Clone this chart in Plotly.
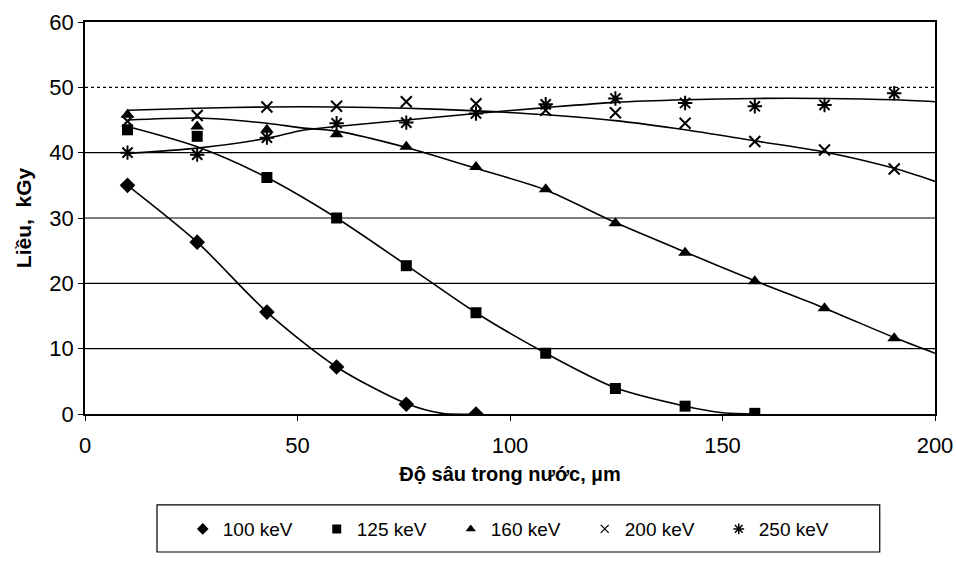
import plotly.graph_objects as go

# ---- data ----
depth = [10, 26.4, 42.8, 59.2, 75.6, 92, 108.4, 124.8, 141.2, 157.6, 174, 190.4]

kev100 = [35, 26.3, 15.6, 7.2, 1.5, 0]
kev125 = [43.5, 42.5, 36.2, 30, 22.7, 15.5, 9.3, 3.9, 1.2, 0.1]
kev160 = [45.8, 44, 43.5, 42.8, 40.9, 37.8, 34.4, 29.2, 24.7, 20.3, 16.2, 11.6]
kev200 = [44.8, 45.7, 47, 47.1, 47.8, 47.5, 46.5, 46.1, 44.5, 41.7, 40.4, 37.5]
kev250 = [40, 39.7, 42.3, 44.5, 44.6, 46, 47.4, 48.3, 47.6, 47.1, 47.3, 49.1]

# smooth trend curves
fit100_x = [10, 26.4, 42.8, 59.2, 75.6, 84, 92]
fit100_y = [35, 26.3, 15.6, 7.2, 1.6, 0.1, 0]
fit125_x = [10, 26.4, 42.8, 59.2, 75.6, 92, 108.4, 124.8, 141.2, 150, 157.6]
fit125_y = [44, 40.9, 36.2, 30, 22.8, 15.5, 9.3, 4, 1.2, 0.2, 0]
fit160_x = [10, 26.4, 42.8, 51, 59.2, 75.6, 92, 108.4, 124.8, 141.2, 157.6, 174, 190.4, 200]
fit160_y = [45, 45.3, 44.5, 43.8, 43.3, 40.8, 37.6, 34.3, 29.3, 24.8, 20.4, 16.2, 11.7, 9.3]
fit200_x = [10, 26.4, 42.8, 59.2, 75.6, 92, 108.4, 124.8, 141.2, 157.6, 174, 190.4, 200]
fit200_y = [46.5, 46.8, 47.0, 47.0, 46.8, 46.4, 45.8, 44.9, 43.5, 41.8, 40.1, 37.6, 35.6]
fit250_x = [10, 26.4, 42.8, 51, 59.2, 75.6, 92, 108.4, 124.8, 141.2, 157.6, 174, 190.4, 200]
fit250_y = [39.9, 40.7, 42.2, 43.4, 44.0, 45.0, 46.0, 46.9, 47.7, 48.1, 48.3, 48.3, 48.1, 47.8]

names = ["100 keV", "125 keV", "160 keV", "200 keV", "250 keV"]
y_ticks = [0, 10, 20, 30, 40, 50, 60]
x_ticks = [0, 50, 100, 150, 200]
solid_grid = [10, 20, 30, 40]
dotted_grid = [50]

FONT = "Liberation Sans, Arial, sans-serif"

symbols = [
    dict(symbol="diamond", size=12),
    dict(symbol="square", size=11),
    dict(symbol="triangle-up", size=12),
    dict(symbol="x-thin", size=11, line=dict(width=2, color="black")),
    dict(symbol="asterisk", size=12, line=dict(width=2, color="black")),
]
legend_symbols = [
    dict(symbol="diamond", size=9),
    dict(symbol="square", size=9),
    dict(symbol="triangle-up", size=9),
    dict(symbol="x-thin", size=8, line=dict(width=1.3, color="black")),
    dict(symbol="asterisk", size=9, line=dict(width=1.5, color="black")),
]
series = [kev100, kev125, kev160, kev200, kev250]
fits = [(fit100_x, fit100_y), (fit125_x, fit125_y), (fit160_x, fit160_y),
        (fit200_x, fit200_y), (fit250_x, fit250_y)]

fig = go.Figure()

for fx, fy in fits:
    fig.add_trace(go.Scatter(x=fx, y=fy, mode="lines",
                             line=dict(color="black", width=1.6, shape="spline", smoothing=0.8),
                             showlegend=False, hoverinfo="skip"))

for vals, mk, nm in zip(series, symbols, names):
    fig.add_trace(go.Scatter(x=depth[:len(vals)], y=vals, mode="markers", name=nm,
                             marker=dict(color="black", **mk), showlegend=False))

# legend-only entries (smaller symbols, as in the reference legend)
for mk, nm in zip(legend_symbols, names):
    fig.add_trace(go.Scatter(x=[None], y=[None], mode="markers", name=nm,
                             marker=dict(color="black", **mk)))

shapes = []
for g in solid_grid:
    shapes.append(dict(type="line", xref="paper", x0=0, x1=1, yref="y", y0=g, y1=g,
                       line=dict(color="black", width=1.2), layer="below"))
for g in dotted_grid:
    shapes.append(dict(type="line", xref="paper", x0=0, x1=1, yref="y", y0=g, y1=g,
                       line=dict(color="black", width=1.2, dash="dot"), layer="below"))
# legend frame
shapes.append(dict(type="rect", xref="paper", yref="paper", x0=0.0847, x1=0.935,
                   y0=-0.352, y1=-0.232, line=dict(color="black", width=1.2),
                   fillcolor="white", layer="below"))

fig.update_layout(
    width=956, height=562,
    margin=dict(l=85, r=21, t=22, b=148),
    paper_bgcolor="white", plot_bgcolor="white",
    font=dict(family=FONT, color="black"),
    shapes=shapes,
    xaxis=dict(range=[0, 200], tickvals=x_ticks, showgrid=False, zeroline=False,
               showline=True, linecolor="black", linewidth=1.8, mirror=True,
               ticks="outside", ticklen=5, tickcolor="black", tickfont=dict(size=22),
               ticklabelstandoff=6, automargin=False,
               title=dict(text="<b>Độ sâu trong nước, µm</b>", font=dict(size=20), standoff=10)),
    yaxis=dict(range=[0, 60], tickvals=y_ticks, showgrid=False, zeroline=False,
               showline=True, linecolor="black", linewidth=1.8, mirror=True,
               ticks="outside", ticklen=5, tickcolor="black", tickfont=dict(size=22),
               automargin=False,
               title=dict(text="<b>Liều,  kGy</b>", font=dict(size=21), standoff=12)),
    legend=dict(orientation="h", x=0.115, xanchor="left", y=-0.245, yanchor="top",
                borderwidth=0, bgcolor="rgba(0,0,0,0)",
                font=dict(size=19), entrywidth=89, entrywidthmode="pixels",
                itemwidth=30),
)

fig.write_html("out.html")
